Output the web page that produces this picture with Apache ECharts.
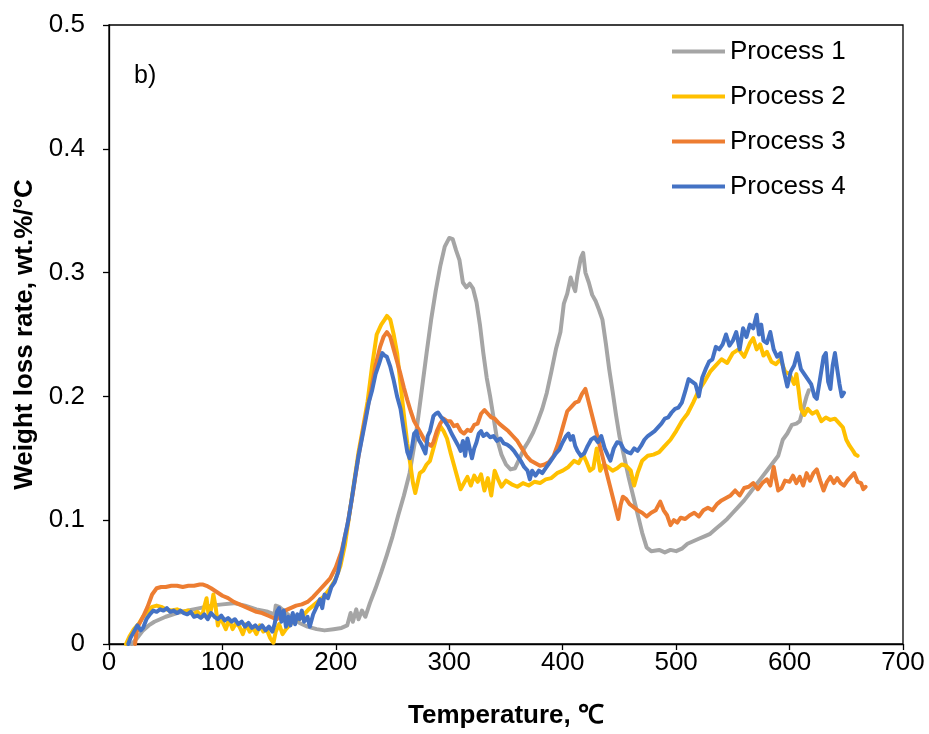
<!DOCTYPE html>
<html>
<head>
<meta charset="utf-8">
<script src="https://cdn.jsdelivr.net/npm/echarts@6/dist/echarts.min.js"></script>
<style>
  html, body { margin: 0; padding: 0; background: #fff; }
  #chart { width: 929px; height: 734px; }
</style>
</head>
<body>
<div id="chart"></div>
<script>
// DTG curves: [temperature in °C, weight loss rate in wt.%/°C]
const seriesNames = ['Process 1', 'Process 2', 'Process 3', 'Process 4'];
const seriesColors = ['#A5A5A5', '#FFC000', '#ED7D31', '#4472C4'];
const xTicks = { min: 0, max: 700, step: 100 };
const yTicks = { min: 0, max: 0.5, step: 0.1 };

const process1 = [
  [20,0],[25,0.005],[30,0.011],[35,0.015],[40,0.018],[50,0.022],[60,0.025],[70,0.027],[80,0.029],[90,0.031],
  [100,0.032],[110,0.033],[120,0.031],[130,0.028],[140,0.026],[146,0.024],[147,0.031],[150,0.030],[155,0.026],
  [160,0.022],[168,0.017],[175,0.014],[183,0.012],[190,0.011],[198,0.012],[205,0.013],[210,0.015],[213,0.025],
  [215,0.018],[218,0.028],[220,0.020],[223,0.027],[226,0.022],[230,0.033],[235,0.045],[240,0.058],[245,0.072],
  [250,0.087],[255,0.104],[260,0.12],[265,0.138],[270,0.165],[275,0.2],[280,0.235],[284,0.262],[288,0.285],
  [292,0.305],[296,0.321],[300,0.328],[303,0.327],[306,0.318],[309,0.31],[312,0.292],[315,0.288],[318,0.291],
  [321,0.287],[324,0.276],[327,0.258],[330,0.235],[333,0.215],[336,0.2],[339,0.183],[342,0.166],[346,0.153],
  [350,0.145],[354,0.141],[358,0.142],[362,0.15],[366,0.158],[370,0.164],[374,0.171],[378,0.18],[382,0.19],
  [386,0.203],[390,0.22],[394,0.238],[398,0.252],[401,0.275],[404,0.283],[407,0.296],[409,0.29],[411,0.285],
  [413,0.298],[416,0.312],[418,0.316],[420,0.3],[423,0.292],[426,0.282],[429,0.277],[432,0.27],[435,0.262],
  [438,0.243],[441,0.222],[444,0.204],[447,0.185],[450,0.168],[454,0.152],[458,0.135],[462,0.12],[466,0.105],
  [470,0.09],[474,0.078],[478,0.075],[485,0.076],[490,0.074],[495,0.076],[500,0.075],[505,0.077],[510,0.081],
  [515,0.083],[520,0.085],[525,0.087],[530,0.089],[535,0.093],[540,0.097],[545,0.101],[550,0.106],[555,0.111],
  [560,0.116],[565,0.122],[570,0.128],[575,0.134],[580,0.14],[585,0.146],[590,0.152],[594,0.165],[598,0.17],
  [602,0.177],[606,0.178],[609,0.18],[612,0.19],[615,0.2],[617,0.205]
];

const process2 = [
  [15,0],[18,0.006],[22,0.012],[26,0.016],[30,0.022],[34,0.026],[38,0.03],[42,0.031],[46,0.03],[50,0.028],
  [55,0.027],[60,0.028],[65,0.026],[70,0.027],[74,0.024],[78,0.026],[82,0.022],[84,0.03],[86,0.037],[88,0.022],
  [90,0.028],[92,0.04],[94,0.03],[96,0.015],[98,0.022],[100,0.018],[103,0.012],[106,0.02],[109,0.012],[112,0.017],
  [115,0.014],[118,0.008],[121,0.016],[124,0.01],[127,0.013],[130,0.008],[133,0.015],[136,0.01],[139,0.012],
  [142,0.005],[145,0.001],[147,0.01],[150,0.016],[153,0.008],[156,0.012],[160,0.016],[164,0.02],[168,0.02],
  [172,0.024],[176,0.028],[180,0.031],[185,0.035],[190,0.039],[195,0.045],[200,0.053],[204,0.063],[208,0.08],
  [212,0.105],[216,0.13],[220,0.155],[224,0.175],[228,0.196],[232,0.225],[236,0.25],[240,0.258],[243,0.262],
  [245,0.265],[248,0.262],[251,0.25],[254,0.235],[257,0.21],[260,0.185],[263,0.162],[266,0.143],[268,0.13],
  [270,0.122],[272,0.13],[274,0.138],[277,0.14],[280,0.145],[283,0.148],[286,0.158],[289,0.168],[292,0.176],
  [295,0.172],[298,0.166],[301,0.155],[304,0.145],[307,0.135],[310,0.125],[313,0.13],[316,0.135],[319,0.128],
  [322,0.136],[325,0.131],[328,0.137],[331,0.124],[334,0.134],[337,0.12],[340,0.14],[343,0.133],[346,0.127],
  [350,0.132],[355,0.129],[360,0.127],[365,0.13],[370,0.128],[375,0.131],[380,0.13],[385,0.133],[390,0.134],
  [395,0.138],[400,0.14],[405,0.143],[410,0.148],[414,0.146],[418,0.153],[421,0.147],[424,0.14],[427,0.142],
  [430,0.158],[433,0.14],[436,0.145],[440,0.143],[444,0.14],[448,0.142],[452,0.145],[456,0.144],[460,0.14],
  [463,0.128],[466,0.138],[470,0.148],[475,0.152],[480,0.153],[485,0.155],[490,0.16],[495,0.165],[500,0.172],
  [505,0.18],[510,0.186],[515,0.195],[520,0.205],[525,0.212],[530,0.22],[535,0.225],[540,0.23],[545,0.227],
  [550,0.235],[555,0.238],[560,0.232],[565,0.243],[568,0.247],[571,0.238],[574,0.242],[577,0.233],[580,0.236],
  [584,0.228],[588,0.226],[592,0.23],[596,0.22],[600,0.218],[604,0.21],[606,0.218],[608,0.205],[610,0.19],
  [613,0.185],[616,0.19],[620,0.186],[624,0.188],[628,0.18],[632,0.183],[636,0.181],[640,0.182],[644,0.178],
  [647,0.175],[650,0.165],[653,0.16],[656,0.156],[658,0.153],[660,0.152]
];

const process3 = [
  [23,0],[24,0.008],[26,0.015],[30,0.022],[34,0.03],[38,0.04],[42,0.045],[46,0.046],[50,0.046],[55,0.047],
  [60,0.047],[65,0.046],[70,0.047],[75,0.047],[80,0.048],[83,0.048],[86,0.047],[90,0.045],[95,0.042],[100,0.039],
  [105,0.037],[110,0.034],[115,0.032],[120,0.03],[125,0.028],[130,0.026],[135,0.025],[140,0.023],[145,0.021],
  [148,0.02],[150,0.024],[155,0.027],[160,0.029],[165,0.031],[170,0.032],[175,0.034],[180,0.038],[185,0.043],
  [190,0.048],[195,0.053],[200,0.062],[205,0.075],[210,0.095],[215,0.122],[220,0.152],[225,0.178],[230,0.2],
  [235,0.225],[239,0.24],[242,0.248],[245,0.252],[248,0.248],[251,0.238],[254,0.228],[257,0.218],[260,0.207],
  [263,0.197],[266,0.188],[269,0.18],[272,0.175],[275,0.17],[278,0.165],[281,0.162],[284,0.16],[286,0.163],
  [289,0.172],[292,0.178],[295,0.182],[298,0.18],[301,0.18],[304,0.176],[307,0.177],[310,0.172],[313,0.17],
  [316,0.173],[319,0.172],[322,0.177],[325,0.178],[328,0.186],[331,0.189],[334,0.186],[337,0.183],[340,0.182],
  [344,0.178],[348,0.175],[352,0.172],[356,0.168],[360,0.164],[364,0.158],[368,0.152],[372,0.148],[376,0.146],
  [380,0.144],[384,0.145],[388,0.147],[392,0.152],[396,0.162],[400,0.175],[404,0.188],[408,0.192],[411,0.195],
  [414,0.196],[417,0.202],[420,0.206],[449,0.101],[451,0.112],[453,0.119],[456,0.117],[459,0.113],[462,0.111],
  [466,0.108],[470,0.106],[474,0.103],[478,0.106],[482,0.108],[486,0.115],[489,0.108],[492,0.104],[495,0.096],
  [498,0.1],[501,0.098],[504,0.102],[508,0.101],[512,0.104],[516,0.106],[520,0.103],[524,0.108],[528,0.11],
  [532,0.108],[536,0.113],[540,0.116],[544,0.118],[548,0.12],[552,0.124],[556,0.12],[560,0.126],[564,0.127],
  [568,0.13],[572,0.125],[576,0.13],[580,0.133],[583,0.128],[586,0.143],[588,0.133],[590,0.124],[593,0.126],
  [596,0.132],[600,0.131],[603,0.136],[606,0.13],[609,0.135],[612,0.128],[615,0.138],[618,0.132],[621,0.138],
  [624,0.141],[627,0.132],[630,0.124],[633,0.131],[636,0.135],[639,0.13],[642,0.134],[645,0.13],[648,0.128],
  [651,0.132],[654,0.135],[657,0.138],[660,0.131],[663,0.13],[665,0.125],[667,0.127]
];

const process4 = [
  [17,0],[19,0.005],[22,0.01],[25,0.015],[28,0.011],[30,0.013],[33,0.02],[36,0.024],[39,0.027],[42,0.026],
  [45,0.028],[48,0.027],[51,0.029],[54,0.026],[57,0.027],[60,0.025],[63,0.027],[66,0.025],[69,0.024],[72,0.026],
  [75,0.022],[78,0.023],[81,0.021],[84,0.024],[87,0.02],[90,0.025],[93,0.022],[96,0.02],[99,0.023],[102,0.019],
  [105,0.021],[108,0.018],[111,0.02],[114,0.016],[117,0.018],[120,0.014],[123,0.017],[126,0.013],[129,0.015],
  [132,0.012],[135,0.015],[138,0.011],[141,0.014],[144,0.01],[146,0.016],[148,0.026],[150,0.029],[152,0.018],
  [154,0.027],[156,0.014],[158,0.022],[160,0.015],[162,0.025],[164,0.016],[166,0.024],[168,0.02],[170,0.027],
  [172,0.018],[175,0.022],[177,0.014],[180,0.024],[183,0.03],[186,0.036],[188,0.029],[190,0.04],[193,0.037],
  [196,0.046],[199,0.05],[202,0.058],[205,0.072],[208,0.087],[211,0.1],[214,0.117],[217,0.135],[220,0.152],
  [223,0.166],[226,0.18],[229,0.195],[232,0.205],[235,0.218],[238,0.226],[241,0.235],[243,0.233],[245,0.232],
  [248,0.224],[251,0.213],[254,0.2],[257,0.19],[260,0.172],[263,0.155],[265,0.15],[267,0.158],[269,0.17],
  [271,0.172],[273,0.165],[275,0.162],[277,0.158],[279,0.154],[281,0.168],[283,0.172],[286,0.184],[288,0.186],
  [290,0.187],[293,0.183],[296,0.18],[299,0.176],[302,0.17],[305,0.165],[308,0.16],[310,0.156],[312,0.164],
  [314,0.152],[316,0.166],[318,0.158],[320,0.15],[322,0.158],[324,0.163],[326,0.17],[328,0.172],[330,0.168],
  [333,0.17],[336,0.167],[339,0.168],[342,0.164],[345,0.166],[348,0.162],[351,0.161],[354,0.159],[357,0.156],
  [360,0.152],[363,0.148],[366,0.143],[369,0.14],[371,0.133],[373,0.14],[376,0.136],[379,0.14],[382,0.138],
  [385,0.142],[388,0.146],[391,0.15],[394,0.154],[397,0.157],[400,0.163],[403,0.168],[405,0.17],[407,0.165],
  [409,0.168],[411,0.16],[413,0.156],[416,0.152],[419,0.154],[422,0.16],[425,0.165],[428,0.167],[431,0.163],
  [434,0.168],[437,0.158],[440,0.152],[442,0.148],[445,0.158],[448,0.163],[451,0.162],[454,0.157],[457,0.155],
  [460,0.154],[463,0.158],[466,0.156],[469,0.16],[472,0.165],[475,0.168],[478,0.17],[481,0.172],[484,0.175],
  [487,0.178],[490,0.182],[493,0.183],[496,0.187],[499,0.19],[502,0.191],[505,0.195],[508,0.204],[511,0.214],
  [514,0.212],[517,0.21],[520,0.2],[523,0.215],[526,0.222],[529,0.228],[532,0.23],[535,0.24],[538,0.238],
  [541,0.242],[544,0.25],[547,0.241],[550,0.245],[553,0.252],[556,0.238],[559,0.255],[562,0.248],[565,0.258],
  [568,0.255],[571,0.266],[573,0.25],[575,0.258],[577,0.245],[580,0.243],[583,0.252],[586,0.238],[589,0.232],
  [592,0.235],[595,0.22],[598,0.208],[601,0.22],[604,0.225],[607,0.235],[610,0.222],[613,0.218],[616,0.214],
  [619,0.21],[622,0.2],[624,0.198],[627,0.215],[630,0.232],[632,0.235],[634,0.212],[636,0.206],[638,0.225],
  [640,0.235],[642,0.222],[644,0.21],[646,0.2],[648,0.203]
];

const curves = [process1, process2, process3, process4];

const FONT = '"Liberation Sans", Arial, sans-serif';
const chart = echarts.init(document.getElementById('chart'), null, { renderer: 'canvas' });

chart.setOption({
  backgroundColor: '#ffffff',
  animation: false,
  textStyle: { fontFamily: FONT, color: '#000' },
  grid: {
    left: 109, right: 26, top: 25, bottom: 89,
    show: true, borderColor: '#000', borderWidth: 1.3, backgroundColor: 'transparent'
  },
  title: {
    text: 'b)', left: 129, top: 59,
    textStyle: { fontFamily: FONT, fontSize: 25, fontWeight: 'normal', color: '#000' }
  },
  legend: {
    orient: 'vertical', left: 667, top: 33,
    icon: 'rect', itemWidth: 53, itemHeight: 4, itemGap: 18,
    textStyle: { fontFamily: FONT, fontSize: 26, color: '#000', lineHeight: 27 },
    data: seriesNames
  },
  xAxis: {
    type: 'value', min: xTicks.min, max: xTicks.max, interval: xTicks.step,
    name: 'Temperature, ℃', nameLocation: 'middle', nameGap: 59,
    nameTextStyle: { fontFamily: FONT, fontSize: 26, fontWeight: 'bold', color: '#000' },
    axisLine: { show: true, lineStyle: { color: '#000', width: 1.3 } },
    axisTick: { show: true, inside: false, length: 6, lineStyle: { color: '#000', width: 1.3 } },
    axisLabel: { fontFamily: FONT, fontSize: 26, color: '#000', margin: 6 },
    splitLine: { show: false }
  },
  yAxis: {
    type: 'value', min: yTicks.min, max: yTicks.max, interval: yTicks.step,
    name: 'Weight loss rate, wt.%/°C', nameLocation: 'middle', nameGap: 66,
    nameTextStyle: { fontFamily: FONT, fontSize: 26, fontWeight: 'bold', color: '#000' },
    axisLine: { show: true, lineStyle: { color: '#000', width: 1.3 } },
    axisTick: { show: true, inside: false, length: 6, lineStyle: { color: '#000', width: 1.3 } },
    axisLabel: { fontFamily: FONT, fontSize: 26, color: '#000', margin: 24 },
    splitLine: { show: false }
  },
  series: seriesNames.map((name, i) => ({
    name: name,
    type: 'line',
    data: curves[i],
    symbol: 'none',
    showSymbol: false,
    smooth: false,
    color: seriesColors[i],
    lineStyle: { color: seriesColors[i], width: 4, join: 'round', cap: 'round' },
    z: 2 + i
  }))
});
</script>
</body>
</html>
